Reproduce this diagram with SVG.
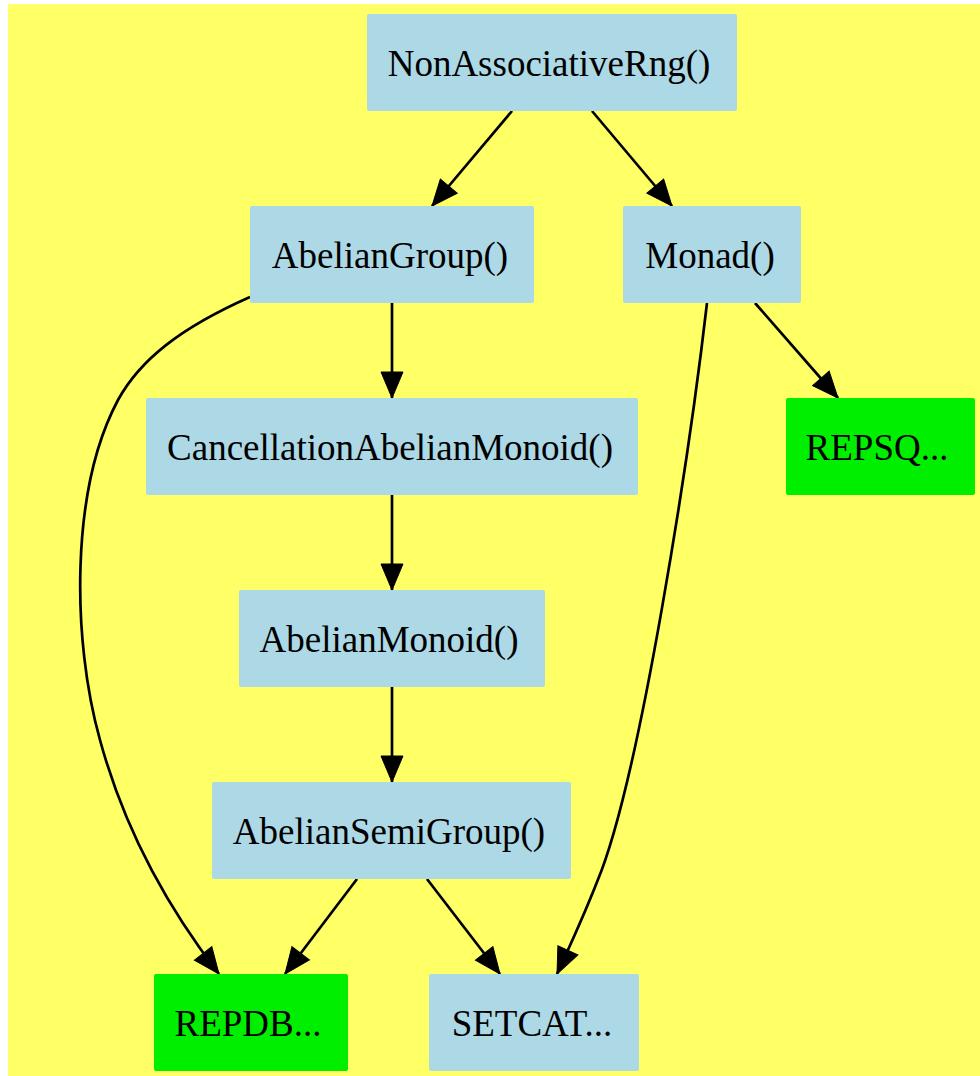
<svg xmlns="http://www.w3.org/2000/svg" width="980" height="1076" viewBox="0 0 980 1076">
<style>
.n rect{fill:#add8e6;}
.g rect{fill:#00ee00;}
text{font-family:"Liberation Serif","Times New Roman",serif;font-size:37px;fill:#000;text-anchor:middle;}
.e path{fill:none;stroke:#000;stroke-width:2.7;marker-end:url(#ah);}
</style>
<defs>
<marker id="ah" markerUnits="userSpaceOnUse" markerWidth="27" markerHeight="23" refX="26" refY="11" orient="auto" overflow="visible">
<path d="M0,0 L26,11 L0,22 Z" fill="#000" stroke="#000" stroke-width="1"/>
</marker>
</defs>
<rect x="8" y="4" width="972" height="1072" fill="#ffff66"/>
<g id="edges" class="e">
<path d="M512,111 L432,206"/>
<path d="M592,111 L672,206"/>
<path d="M392,303 L392,398"/>
<path d="M392,495 L392,590"/>
<path d="M392,687 L392,782"/>
<path d="M250,297 C180,328 140,360 118,400 C70,490 72,640 100,740 C130,850 185,930 219,974"/>
<path d="M357,879 L285,974"/>
<path d="M427,879 L500,974"/>
<path d="M707,303 C690,450 640,780 597,882 C588,905 575,935 557,974"/>
<path d="M755,303 L838,398"/>
</g>
<g id="NonAssociativeRng" class="n"><rect x="367" y="14" width="370" height="97" rx="2"/><text x="549" y="76">NonAssociativeRng()</text></g>
<g id="AbelianGroup" class="n"><rect x="250" y="206" width="284" height="97" rx="2"/><text x="390" y="268">AbelianGroup()</text></g>
<g id="Monad" class="n"><rect x="623" y="206" width="178" height="97" rx="2"/><text x="710" y="268">Monad()</text></g>
<g id="CancellationAbelianMonoid" class="n"><rect x="146" y="398" width="492" height="97" rx="2"/><text x="390" y="460">CancellationAbelianMonoid()</text></g>
<g id="REPSQ" class="g"><rect x="786" y="398" width="189" height="97" rx="2"/><text x="877" y="460">REPSQ...</text></g>
<g id="AbelianMonoid" class="n"><rect x="239" y="590" width="306" height="97" rx="2"/><text x="389" y="652">AbelianMonoid()</text></g>
<g id="AbelianSemiGroup" class="n"><rect x="212" y="782" width="359" height="97" rx="2"/><text x="389" y="844">AbelianSemiGroup()</text></g>
<g id="REPDB" class="g"><rect x="154" y="974" width="194" height="97" rx="2"/><text x="248" y="1036">REPDB...</text></g>
<g id="SETCAT" class="n"><rect x="429" y="974" width="210" height="97" rx="2"/><text x="532" y="1036">SETCAT...</text></g>
</svg>
